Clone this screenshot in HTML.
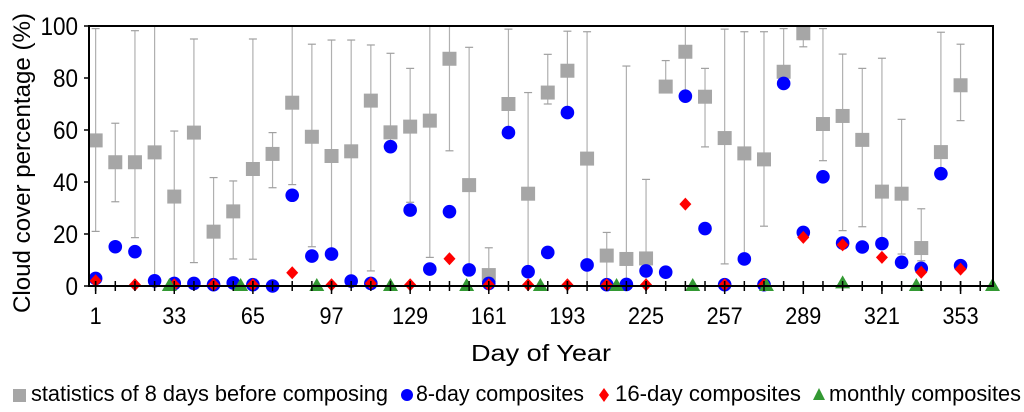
<!DOCTYPE html>
<html><head><meta charset="utf-8"><style>
html,body{margin:0;padding:0;background:#fff;}
svg{display:block;font-family:"Liberation Sans",Arial,sans-serif;}
</style></head><body>
<svg id="chart" width="1024" height="412" viewBox="0 0 1024 412" xmlns="http://www.w3.org/2000/svg">
<g id="errs"></g>
<g id="marks"></g>
<g id="axes"></g>
<g id="legend"></g>
</svg>
<script>
const days8 = [1,9,17,25,33,41,49,57,65,73,81,89,97,105,113,121,129,137,145,153,161,169,177,185,193,201,209,217,225,233,241,249,257,265,273,281,289,297,305,313,321,329,337,345,353];
const statMean = [56,47.6,47.6,51.4,34.4,59,20.9,28.7,45,50.8,70.5,57.4,50,51.8,71.3,59.1,61.3,63.6,87.4,38.8,4.2,70,35.5,74.4,82.8,49,11.7,10.4,10.6,76.7,90.1,72.8,56.9,51,48.7,82.4,97.2,62.3,65.4,56.2,36.3,35.5,14.6,51.5,77.2];
const statHigh = [99,62.6,98.2,100,59.6,95,41.7,40.4,95,59,100,93,94.6,94.6,92.7,89.5,83.7,100,100,91.8,14.7,98.8,74.4,89.1,98,97.8,20.6,84.6,41,86.7,100,83.7,98.8,97.8,97.8,99,100,99,89.2,83.7,87.6,64.1,29.7,97.6,93];
const statLow = [21,32.4,18.6,2,0,9,0,10.4,10.3,37.8,39,15.1,12,2,5.8,53,32.2,11,52,6,0,59,5,70,66,0,0,0,0,76,73,53.5,8.5,10,23,78,92,48.2,21.3,22.8,17,12.3,9.7,43,63.6];
const comp8 = [2.9,15.1,13.2,2,1,1,0.5,1.2,0.5,0,34.9,11.5,12.3,1.9,1,53.6,29.2,6.5,28.6,6.2,1,59,5.5,12.9,66.7,8.1,0.5,0.6,5.8,5.3,73,22.1,0.5,10.4,0.5,77.9,20.6,42,16.5,15,16.3,9.1,6.8,43.2,7.8];
const days16 = [1,17,33,49,65,81,97,113,129,145,161,177,193,209,225,241,257,273,289,305,321,337,353];
const comp16 = [2,0.5,0.5,0.5,0.5,5.1,0.5,1,0.5,10.5,0.5,0.5,0.5,0.5,0.5,31.5,0.5,0.5,18.7,15.8,11,5.3,6.5];
const daysM = [31,60,91,121,152,182,213,244,274,305,335,366];
const compM = [0,0,0,0,0,0,0,0,0,1,0,0];
const xTicks = [1,33,65,97,129,161,193,225,257,289,321,353];
const yTicks = [0,20,40,60,80,100];

const NS="http://www.w3.org/2000/svg";
const L=89,R=993,T=26,B=286;
const D0=-1.7,D1=366.2;
function X(d){return L+(d-D0)/(D1-D0)*(R-L);}
function Y(v){return B-v/100*(B-T);}
function mk(tag,attrs,parent){const e=document.createElementNS(NS,tag);for(const k in attrs)e.setAttribute(k,attrs[k]);parent.appendChild(e);return e;}
const errs=document.getElementById('errs'),marks=document.getElementById('marks'),axes=document.getElementById('axes'),legend=document.getElementById('legend');

let fr=mk('rect',{x:L,y:T,width:R-L,height:B-T,fill:'none',stroke:'#000','stroke-width':2},axes);



days8.forEach((d,i)=>{
  const x=X(d);
  const g=mk('g',{},errs);
  
  
  mk('line',{x1:x,x2:x,y1:Y(statHigh[i]),y2:Y(statLow[i]),stroke:'#b0b0b0','stroke-width':1.2},g);
  mk('line',{x1:x-4,x2:x+4,y1:Y(statHigh[i]),y2:Y(statHigh[i]),stroke:'#a0a0a0','stroke-width':1.2},g);
  mk('line',{x1:x-4,x2:x+4,y1:Y(statLow[i]),y2:Y(statLow[i]),stroke:'#a0a0a0','stroke-width':1.2},g);
  const s=mk('rect',{x:x-7,y:Y(statMean[i])-7,width:14,height:14,fill:'#a6a6a6'},marks);
  
  
});
days8.forEach((d,i)=>{
  const c=mk('circle',{cx:X(d),cy:Y(comp8[i]),r:6.8,fill:'#0000ff'},marks);
  
  
});
days16.forEach((d,i)=>{
  const x=X(d),y=Y(comp16[i]);
  const p=mk('polygon',{points:`${x},${y-6.5} ${x+6},${y} ${x},${y+6.5} ${x-6},${y}`,fill:'#ff0000'},marks);
  
  
});
daysM.forEach((d,i)=>{
  const x=X(d),y=Y(compM[i]);
  const p=mk('polygon',{points:`${x},${y-8} ${x+7.5},${y+5} ${x-7.5},${y+5}`,fill:'#339933'},marks);
  
  
});

for(let d=1;d<=361;d+=8){
  const x=X(d);
  mk('line',{x1:x,x2:x,y1:B-5,y2:B+5,stroke:'#000','stroke-width':1.5},axes);
}
xTicks.forEach(d=>{
  const x=X(d);
  mk('line',{x1:x,x2:x,y1:B-5,y2:B+8,stroke:'#000','stroke-width':1.5},axes);
  const t=mk('text',{x:x,y:324,'font-size':24,'text-anchor':'middle',fill:'#000',transform:`translate(${x*0.1},0) scale(0.9,1)`},axes);
  t.textContent=d;
  
  
});
yTicks.forEach(v=>{
  const y=Y(v);
  mk('line',{x1:L-5,x2:L,y1:y,y2:y,stroke:'#000','stroke-width':1.5},axes);
  const t=mk('text',{x:78/0.9,y:y+9,'font-size':25,'text-anchor':'end',fill:'#000',transform:'scale(0.9,1)'},axes);
  t.textContent=v;
  
  
});
let xt=mk('text',{x:541,y:361,'font-size':23,'text-anchor':'middle',fill:'#000',textLength:140,lengthAdjust:'spacingAndGlyphs'},axes);
xt.textContent='Day of Year';


let yt=mk('text',{x:0,y:0,'font-size':24,'text-anchor':'middle',fill:'#000',transform:'translate(30,163) rotate(-90)',textLength:300,lengthAdjust:'spacingAndGlyphs'},axes);
yt.textContent='Cloud cover percentage (%)';



const ly=395;
function ltext(x,w,s){const t=mk('text',{x:x,y:ly+6,'font-size':22,fill:'#000',textLength:w,lengthAdjust:'spacingAndGlyphs'},legend);t.textContent=s;return t;}
let e;
e=mk('rect',{x:13,y:ly-6,width:13,height:13,fill:'#a6a6a6'},legend);

e=ltext(31,357,'statistics of 8 days before composing');

e=mk('circle',{cx:407,cy:ly,r:6,fill:'#0000ff'},legend);

e=ltext(416,168,'8-day composites');

e=mk('polygon',{points:`604,${ly-7} 609,${ly} 604,${ly+7} 599,${ly}`,fill:'#ff0000'},legend);

e=ltext(615,186,'16-day composites');

e=mk('polygon',{points:`819,${ly-7} 825,${ly+5} 813,${ly+5}`,fill:'#339933'},legend);

e=ltext(829,192,'monthly composites');

</script>
</body></html>
